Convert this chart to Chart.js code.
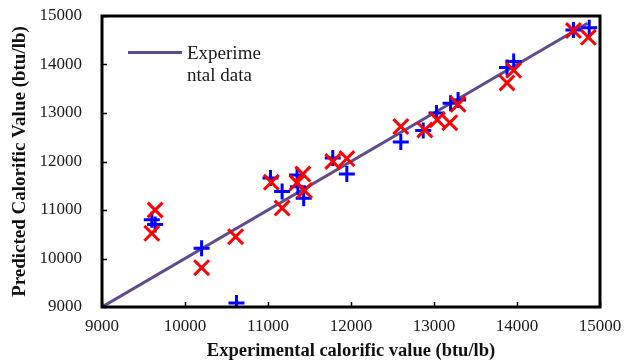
<!DOCTYPE html>
<html>
<head>
<meta charset="utf-8">
<script src="https://cdn.jsdelivr.net/npm/chart.js@4/dist/chart.umd.min.js"></script>
<style>
  html,body{margin:0;padding:0;background:#fff;}
  #wrap{position:relative;width:625px;height:362px;}
  #legend{position:absolute;left:128px;top:42px;font-family:"Liberation Serif","DejaVu Serif",serif;font-size:19px;color:#1a1a1a;}
  #legend .ln{position:absolute;left:0;top:9px;width:54px;height:3px;background:#5f4b8b;}
  #legend .tx{position:absolute;left:59px;top:0;line-height:22px;white-space:nowrap;}
</style>
</head>
<body>
<div id="wrap">
<canvas id="c" width="625" height="362"></canvas>
<div id="legend"><div class="ln"></div><div class="tx">Experime<br>ntal data</div></div>
</div>
<script>
const axisTicks = [9000, 10000, 11000, 12000, 13000, 14000, 15000];
const lineX = [9000, 14850];
const blueX = [9600, 9640, 10200, 10620, 11030, 11170, 11350, 11360, 11430, 11780, 11950, 12600, 12870, 13030, 13200, 13290, 13880, 13960, 14680, 14870];
const blueY = [10800, 10700, 10210, 9080, 11660, 11380, 11720, 11480, 11240, 12070, 11740, 12400, 12640, 13000, 13200, 13270, 13940, 14060, 14710, 14760];
const redX = [9600, 9640, 10200, 10610, 11040, 11170, 11350, 11420, 11440, 11780, 11950, 12600, 12890, 13040, 13190, 13290, 13880, 13960, 14680, 14860];
const redY = [10520, 11000, 9810, 10450, 11570, 11040, 11560, 11740, 11400, 12000, 12060, 12720, 12650, 12860, 12800, 13180, 13620, 13880, 14700, 14560];

const FONT = '"Liberation Serif","DejaVu Serif",serif';

const frame = {
  id: 'frame',
  afterDraw(chart) {
    const {ctx, chartArea: a, scales: {x, y}} = chart;
    ctx.save();
    ctx.strokeStyle = '#000';
    ctx.lineWidth = 1.5;
    axisTicks.forEach(v => {
      const px = Math.round(x.getPixelForValue(v)) + 0.5;
      ctx.beginPath(); ctx.moveTo(px, a.bottom); ctx.lineTo(px, a.bottom - 5); ctx.stroke();
      const py = Math.round(y.getPixelForValue(v)) + 0.5;
      ctx.beginPath(); ctx.moveTo(a.left, py); ctx.lineTo(a.left + 5, py); ctx.stroke();
    });
    ctx.lineWidth = 3;
    ctx.strokeRect(a.left, a.top, a.right - a.left, a.bottom - a.top);
    ctx.restore();
  }
};

new Chart(document.getElementById('c'), {
  type: 'scatter',
  data: {
    datasets: [
      {
        label: 'Experimental data',
        type: 'line',
        data: lineX.map(v => ({x: v, y: v})),
        borderColor: '#5f4b8b',
        borderWidth: 3,
        pointRadius: 0,
        fill: false,
        order: 3
      },
      {
        label: 'Model A',
        data: blueX.map((v, i) => ({x: v, y: blueY[i]})),
        pointStyle: 'cross',
        pointRadius: 8,
        borderColor: '#0000ff',
        backgroundColor: '#0000ff',
        pointBorderWidth: 3,
        order: 2
      },
      {
        label: 'Model B',
        data: redX.map((v, i) => ({x: v, y: redY[i]})),
        pointStyle: 'crossRot',
        pointRadius: 10.5,
        borderColor: '#ff0000',
        backgroundColor: '#ff0000',
        pointBorderWidth: 3,
        order: 1
      }
    ]
  },
  options: {
    responsive: false,
    animation: false,
    devicePixelRatio: 1,
    layout: {autoPadding: false, padding: {left: 4, right: 25, top: 16, bottom: 0}},
    plugins: {legend: {display: false}, tooltip: {enabled: false}},
    scales: {
      x: {
        type: 'linear', min: 9000, max: 15000,
        afterBuildTicks: s => { s.ticks = axisTicks.map(v => ({value: v})); },
        afterFit: s => { s.height = 55; },
        grid: {display: true, drawOnChartArea: false, drawTicks: true, tickLength: 9, tickColor: 'rgba(0,0,0,0)'},
        border: {display: false},
        ticks: {padding: 0, color: '#1a1a1a', font: {family: FONT, size: 17}, callback: v => String(v)},
        title: {display: true, text: 'Experimental calorific value (btu/lb)', color: '#111', font: {family: FONT, size: 18.5, weight: 'bold'}, padding: {top: 0, bottom: 0}}
      },
      y: {
        type: 'linear', min: 9000, max: 15000,
        afterBuildTicks: s => { s.ticks = axisTicks.map(v => ({value: v})); },
        afterFit: s => { s.width = 98; },
        grid: {display: true, drawOnChartArea: false, drawTicks: true, tickLength: 20, tickColor: 'rgba(0,0,0,0)'},
        border: {display: false},
        ticks: {padding: 0, color: '#1a1a1a', font: {family: FONT, size: 17}, callback: v => String(v)},
        title: {display: true, text: 'Predicted Calorific Value (btu/lb)', color: '#111', font: {family: FONT, size: 19, weight: 'bold'}, padding: {top: 5, bottom: 0}}
      }
    }
  },
  plugins: [frame]
});
</script>
</body>
</html>
